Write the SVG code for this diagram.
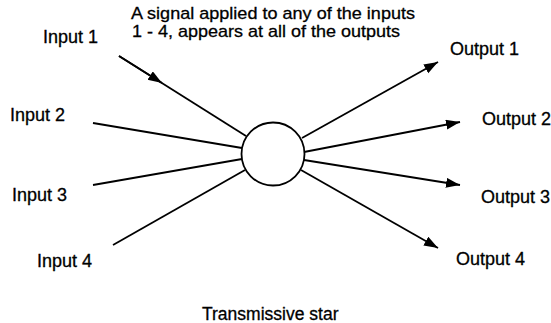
<svg xmlns="http://www.w3.org/2000/svg" width="551" height="323" viewBox="0 0 551 323">
<style>
text{font-family:"Liberation Sans",Arial,sans-serif;font-size:18px;fill:#000;stroke:#000;stroke-width:0.3}
.note{font-size:17px}
.ln{stroke:#000;stroke-width:1.8;fill:none}
.ar{marker-end:url(#ah)}
</style>
<defs>
<marker id="ah" markerUnits="userSpaceOnUse" markerWidth="15" markerHeight="11" refX="14" refY="5" orient="auto" viewBox="0 0 15 11">
<path d="M0,0 L14,5 L0,10 Z" fill="#000"/>
</marker>
</defs>
<rect width="551" height="323" fill="#fff"/>
<g id="connectors">
<line class="ln" x1="119" y1="56" x2="246" y2="136"/>
<line class="ln ar" x1="119" y1="56" x2="162" y2="83"/>
<line class="ln" x1="93" y1="123" x2="242" y2="148"/>
<line class="ln" x1="93" y1="185" x2="242" y2="159"/>
<line class="ln" x1="113" y1="245" x2="245" y2="170"/>
<line class="ln ar" x1="302" y1="138" x2="438" y2="62"/>
<line class="ln ar" x1="304" y1="152" x2="460" y2="122"/>
<line class="ln ar" x1="304" y1="160" x2="460" y2="185"/>
<line class="ln ar" x1="301" y1="170" x2="438" y2="248"/>
</g>
<g id="star">
<circle cx="273" cy="154" r="31.5" fill="#fff" stroke="#000" stroke-width="1.8"/>
</g>
<g id="note">
<text class="note" x="131" y="18.5" textLength="284" lengthAdjust="spacingAndGlyphs">A signal applied to any of the inputs</text>
<text class="note" x="132" y="36.5" textLength="268" lengthAdjust="spacingAndGlyphs">1 - 4, appears at all of the outputs</text>
</g>
<g id="input1"><text x="43" y="43">Input 1</text></g>
<g id="input2"><text x="10" y="121">Input 2</text></g>
<g id="input3"><text x="12" y="201">Input 3</text></g>
<g id="input4"><text x="37" y="267">Input 4</text></g>
<g id="output1"><text x="450" y="55">Output 1</text></g>
<g id="output2"><text x="482" y="125">Output 2</text></g>
<g id="output3"><text x="481" y="203">Output 3</text></g>
<g id="output4"><text x="456" y="265">Output 4</text></g>
<g id="caption"><text x="202" y="320" style="font-size:17.5px">Transmissive star</text></g>
</svg>
